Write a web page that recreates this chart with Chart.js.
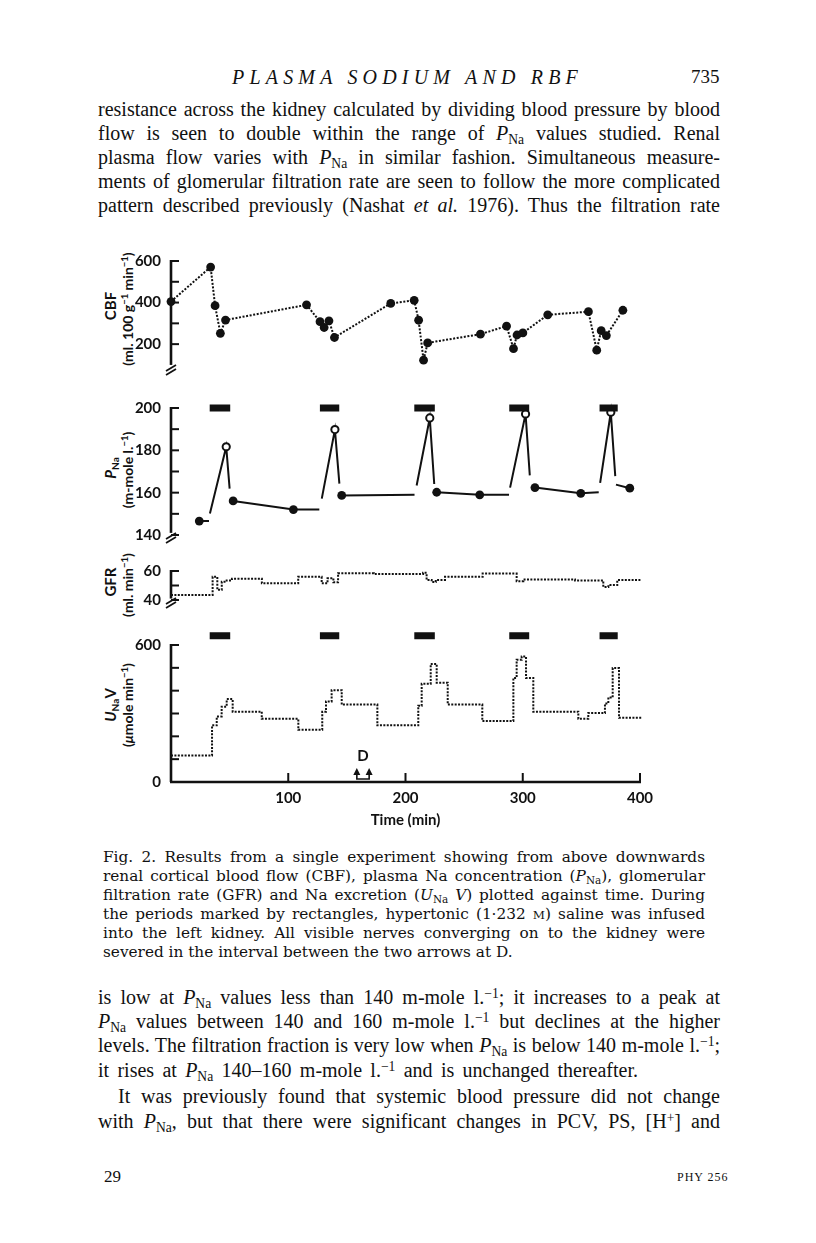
<!DOCTYPE html>
<html>
<head>
<meta charset="utf-8">
<title>Plasma sodium and RBF</title>
<script src="https://cdn.jsdelivr.net/npm/chart.js@4.4.1/dist/chart.umd.min.js"></script>
<style>
  html, body { margin: 0; background: #fff; }
  #page { position: relative; width: 816px; height: 1243px; overflow: hidden; color: #111;
          font-family: "Liberation Serif", "Times New Roman", serif; }
  .ln { position: absolute; white-space: nowrap; }
  .body { font-size: 20px; line-height: 22px; }
  .cap { font-family: "DejaVu Serif", serif; font-size: 15.3px; line-height: 18px; }
  sub { font-size: 0.68em; line-height: 0; vertical-align: -0.28em; }
  sup { font-size: 0.68em; line-height: 0; vertical-align: 0.45em; }
  .sc { font-size: 0.78em; }
  .rot { position: absolute; transform: translate(-50%, -50%) rotate(-90deg); white-space: nowrap;
         font: 700 14px Lato, sans-serif; color: #111; }
  canvas { position: absolute; left: 0; }
</style>
</head>
<body>
<div id="page">
  <div class="ln" style="left:232px;top:66px;font-size:20px;line-height:22px;font-style:italic" data-w="351" data-fit="ls">PLASMA SODIUM AND RBF</div>
  <div class="ln" style="left:691px;top:66px;font-size:19px;line-height:22px">735</div>

  <div class="ln body" style="left:98px;top:98px" data-w="622">resistance across the kidney calculated by dividing blood pressure by blood</div>
  <div class="ln body" style="left:98px;top:122px" data-w="622">flow is seen to double within the range of <i>P</i><sub>Na</sub> values studied. Renal</div>
  <div class="ln body" style="left:98px;top:146px" data-w="622">plasma flow varies with <i>P</i><sub>Na</sub> in similar fashion. Simultaneous measure-</div>
  <div class="ln body" style="left:98px;top:170px" data-w="622">ments of glomerular filtration rate are seen to follow the more complicated</div>
  <div class="ln body" style="left:98px;top:194px" data-w="622">pattern described previously (Nashat <i>et al.</i> 1976). Thus the filtration rate</div>

  <div class="rot" style="left:110px;top:306px;font-size:15px">CBF</div>
  <div class="rot" style="left:127px;top:309px">(ml. 100 g<sup>−1</sup> min<sup>−1</sup>)</div>
  <div class="rot" style="left:110px;top:468px;font-size:15px"><i>P</i><sub>Na</sub></div>
  <div class="rot" style="left:127px;top:470px">(m-mole l.<sup>−1</sup>)</div>
  <div class="rot" style="left:110px;top:582px;font-size:15px">GFR</div>
  <div class="rot" style="left:127px;top:585px">(ml. min<sup>−1</sup>)</div>
  <div class="rot" style="left:110px;top:705px;font-size:15px"><i>U</i><sub>Na</sub>V</div>
  <div class="rot" style="left:127px;top:705px">(<i>μ</i>mole min<sup>−1</sup>)</div>

  <canvas id="cbfChart"></canvas>
  <canvas id="pnaChart"></canvas>
  <canvas id="gfrChart"></canvas>
  <canvas id="unvChart"></canvas>

  <div class="ln cap" style="left:103px;top:848px" data-w="602">Fig. 2. Results from a single experiment showing from above downwards</div>
  <div class="ln cap" style="left:103px;top:867px" data-w="602">renal cortical blood flow (CBF), plasma Na concentration (<i>P</i><sub>Na</sub>), glomerular</div>
  <div class="ln cap" style="left:103px;top:886px" data-w="602">filtration rate (GFR) and Na excretion (<i>U</i><sub>Na</sub> <i>V</i>) plotted against time. During</div>
  <div class="ln cap" style="left:103px;top:905px" data-w="602">the periods marked by rectangles, hypertonic (1·232 <span class="sc">M</span>) saline was infused</div>
  <div class="ln cap" style="left:103px;top:924px" data-w="602">into the left kidney. All visible nerves converging on to the kidney were</div>
  <div class="ln cap" style="left:103px;top:943px">severed in the interval between the two arrows at D.</div>

  <div class="ln body" style="left:98px;top:986px" data-w="622">is low at <i>P</i><sub>Na</sub> values less than 140 m-mole l.<sup>−1</sup>; it increases to a peak at</div>
  <div class="ln body" style="left:98px;top:1010px" data-w="622"><i>P</i><sub>Na</sub> values between 140 and 160 m-mole l.<sup>−1</sup> but declines at the higher</div>
  <div class="ln body" style="left:98px;top:1034px" data-w="622">levels. The filtration fraction is very low when <i>P</i><sub>Na</sub> is below 140 m-mole l.<sup>−1</sup>;</div>
  <div class="ln body" style="left:98px;top:1059px" data-w="540">it rises at <i>P</i><sub>Na</sub> 140–160 m-mole l.<sup>−1</sup> and is unchanged thereafter.</div>
  <div class="ln body" style="left:118px;top:1085px" data-w="602">It was previously found that systemic blood pressure did not change</div>
  <div class="ln body" style="left:98px;top:1110px" data-w="622">with <i>P</i><sub>Na</sub>, but that there were significant changes in PCV, PS, [H<sup>+</sup>] and</div>

  <div class="ln" style="left:104px;top:1166px;font-size:17px;line-height:22px">29</div>
  <div class="ln" style="left:677px;top:1168px;font-size:12px;line-height:18px;letter-spacing:1px">PHY 256</div>
</div>

<script>
// justify the printed lines to the measured column widths
document.querySelectorAll('[data-w]').forEach(el => {
  const target = +el.dataset.w;
  const natural = el.getBoundingClientRect().width;
  if (el.dataset.fit === 'ls') {
    el.style.letterSpacing = ((target - natural) / el.textContent.length) + 'px';
  } else {
    const gaps = (el.textContent.match(/ /g) || []).length;
    el.style.wordSpacing = ((target - natural) / gaps) + 'px';
  }
});

// ---- data (time in min) ----
const xLabels = [100, 200, 300, 400];
const infusions = [[33, 50.5], [127, 143.5], [207.5, 225], [288.5, 305.5], [365.5, 381]];
const nerveCut = [158.5, 169];

// renal cortical blood flow
const cbfTime = [0, 33.8, 37.6, 42.1, 46.5, 115.6, 127.1, 130.6, 134.7, 139.4, 187.4, 207.4, 211.2,
                 215.4, 218.9, 263.9, 286.2, 292.1, 295.1, 300.1, 321.3, 356.0, 363.1, 366.9, 371.3, 385.4];
const cbfValue = [405, 571, 385, 252, 316, 389, 308, 280, 312, 232, 396, 411, 315,
                  123, 206, 248, 287, 178, 244, 254, 341, 356, 171, 265, 241, 363];
const cbfTicks = [200, 300, 400, 500, 600];
const cbfLabels = [200, 400, 600];

// plasma Na (null = break in the line; kind m = measured, p = peak after infusion)
const pnaTime = [24.1, 32.4, null, 33.2, 47.1, 50.0, null, 53.0, 104.4, 126.5, null, 128.6, 139.8, 143.6, null,
                 145.6, 207.7, null, 209.5, 220.7, 224.5, null, 226.6, 263.3, 288.3, null, 289.2, 302.4, 306.0, null,
                 310.4, 349.5, 364.8, null, 366.0, 375.1, 378.9, null, 379.5, 391.3];
const pnaValue = [146.6, 146.6, null, 150.2, 181.7, 161.9, null, 156.1, 152.0, 152.0, null, 157.2, 189.8, 164.3, null,
                  158.7, 159.0, null, 163.4, 195.3, 164.1, null, 160.2, 159.0, 159.0, null, 162.4, 197.2, 168.2, null,
                  162.4, 159.7, 160.2, null, 164.6, 198.0, 167.8, null, 163.8, 162.1];
const pnaKind = ['m', '', '', '', 'p', '', '', 'm', 'm', '', '', '', 'p', '', '',
                 'm', '', '', '', 'p', '', '', 'm', 'm', '', '', '', 'p', '', '',
                 'm', 'm', '', '', '', 'p', '', '', '', 'm'];
const pnaTicks = [140, 150, 160, 170, 180, 190, 200];
const pnaLabels = [140, 160, 180, 200];

// glomerular filtration rate (level from each time on)
const gfrTime = [0, 35.5, 39.5, 43.3, 47.5, 52, 77.5, 108.5, 128.5, 133.5, 138.5, 142.5, 173, 215,
                 218, 222.3, 225.8, 233.7, 265.8, 294.8, 300.5, 344.6, 368.7, 373, 380.6, 401];
const gfrValue = [43.5, 56, 47, 52.6, 53.5, 54.7, 51.5, 56, 51.5, 55, 52.3, 58.4, 58, 58.8,
                  53.8, 52.4, 53.8, 56, 58.2, 53, 54.1, 53.5, 49, 50.3, 53.8, 53.8];
const gfrTicks = [40, 50, 60];
const gfrLabels = [40, 60];

// Na excretion (level from each time on)
const unvTime = [0, 35, 39, 43.2, 47.5, 52.6, 77.4, 108.6, 129, 132.2, 137, 145.6, 176, 210.9, 213.8, 221.5,
                 226.6, 236, 265.5, 292, 294.8, 299.1, 302.8, 309, 347.4, 355.9, 370.1, 373, 376.7, 382.1, 402];
const unvValue = [116, 248, 287, 330, 363, 308, 277, 229, 308, 353, 402, 339, 248, 334, 430, 517,
                  435, 339, 267, 456, 535, 550, 456, 308, 277, 302, 344, 370, 499, 281, 281];
const unvTicks = [0, 100, 200, 300, 400, 500, 600];
const unvLabels = [0, 600];

// ---- drawing ----
const INK = '#111';
const X0 = 171, X1 = 640;
const tickFont = { family: 'Lato', size: 15, weight: 'bold' };
Chart.defaults.color = INK;

const pts = (ts, vs) => ts.map((t, i) => ({ x: t === null ? ts[i - 1] : t, y: vs[i] }));

function infusionBars(level) {
  const d = [];
  infusions.forEach(([s, e]) => d.push({ x: s, y: level }, { x: e, y: level }, { x: e, y: null }));
  return { data: d, borderColor: INK, borderWidth: 7, pointRadius: 0, spanGaps: false, clip: false };
}

const axisDeco = {
  id: 'axisDeco',
  beforeDatasetsDraw(chart, args, o) {
    const ctx = chart.ctx, xs = chart.scales.x, ys = chart.scales.y;
    const x0 = xs.getPixelForValue(0);
    ctx.save();
    ctx.strokeStyle = INK;
    ctx.fillStyle = INK;
    ctx.lineWidth = 2.6;
    ctx.beginPath();
    ctx.moveTo(x0, ys.getPixelForValue(o.from) - 1);
    ctx.lineTo(x0, ys.getPixelForValue(o.to));
    ctx.stroke();
    ctx.lineWidth = 2;
    o.ticks.forEach(v => {
      const py = ys.getPixelForValue(v);
      ctx.beginPath(); ctx.moveTo(x0, py); ctx.lineTo(x0 + 8, py); ctx.stroke();
    });
    if (o.breakAt !== undefined) {
      const py = ys.getPixelForValue(o.breakAt);
      ctx.lineWidth = 1.8;
      [0, 4].forEach(d => {
        ctx.beginPath(); ctx.moveTo(x0 - 5, py + 4 + d); ctx.lineTo(x0 + 5, py - 2 + d); ctx.stroke();
      });
    }
    if (o.timeAxis) {
      const py = ys.getPixelForValue(0);
      ctx.lineWidth = 2.6;
      ctx.beginPath(); ctx.moveTo(x0 - 1, py); ctx.lineTo(xs.getPixelForValue(400) + 1, py); ctx.stroke();
      ctx.lineWidth = 2;
      xLabels.forEach(t => {
        const px = xs.getPixelForValue(t);
        ctx.beginPath(); ctx.moveTo(px, py); ctx.lineTo(px, py - 9); ctx.stroke();
      });
      // nerve section between the two arrows at D
      const pa = xs.getPixelForValue(nerveCut[0]), pb = xs.getPixelForValue(nerveCut[1]);
      ctx.lineWidth = 1.6;
      ctx.beginPath();
      ctx.moveTo(pa, py - 9); ctx.lineTo(pa, py - 3); ctx.lineTo(pb, py - 3); ctx.lineTo(pb, py - 9);
      ctx.stroke();
      [pa, pb].forEach(px => {
        ctx.beginPath(); ctx.moveTo(px - 3.5, py - 7); ctx.lineTo(px, py - 14); ctx.lineTo(px + 3.5, py - 7);
        ctx.closePath(); ctx.fill();
      });
      ctx.font = '700 15px Lato';
      ctx.textAlign = 'center';
      ctx.textBaseline = 'middle';
      ctx.fillText('D', (pa + pb) / 2, py - 26);
    }
    ctx.restore();
  }
};

function panel(id, top, bottom, yMin, yMax, labels, datasets, deco, padTop, padBot, withX) {
  const cv = document.getElementById(id);
  const xH = withX ? 52 : 0;
  cv.width = 816;
  cv.height = padTop + (bottom - top) + xH + padBot;
  cv.style.top = (top - padTop) + 'px';
  return new Chart(cv, {
    type: 'line',
    data: { datasets },
    options: {
      responsive: false,
      animation: false,
      devicePixelRatio: 1,
      layout: { padding: { left: 0, right: 816 - X1, top: padTop, bottom: padBot } },
      plugins: { legend: { display: false }, tooltip: { enabled: false }, axisDeco: deco },
      scales: {
        x: {
          type: 'linear', min: 0, max: 400, display: withX,
          afterBuildTicks: s => { s.ticks = xLabels.map(v => ({ value: v })); },
          afterFit: s => { s.height = xH; },
          grid: { display: false, drawTicks: false }, border: { display: false },
          ticks: { font: tickFont, color: INK, padding: 7, maxRotation: 0, autoSkip: false },
          title: { display: withX, text: 'Time (min)', font: tickFont, color: INK, padding: { top: 0, bottom: 5 } }
        },
        y: {
          type: 'linear', min: yMin, max: yMax,
          afterFit: s => { s.width = X0; },
          afterBuildTicks: s => { s.ticks = labels.map(v => ({ value: v })); },
          grid: { display: false, drawTicks: false }, border: { display: false },
          ticks: { font: tickFont, color: INK, padding: 10 }
        }
      }
    },
    plugins: [axisDeco]
  });
}

// CBF
panel('cbfChart', 256, 372, 90, 600, cbfLabels, [{
  data: pts(cbfTime, cbfValue),
  borderColor: INK, borderWidth: 2, borderDash: [2, 1.6],
  pointRadius: 4.4, pointBackgroundColor: INK, pointBorderWidth: 0, clip: false
}], { from: 600, to: 100, ticks: cbfTicks, breakAt: 90 }, 14, 14, false);

// PNa
panel('pnaChart', 403, 540, 140, 200, pnaLabels, [
  infusionBars(200),
  {
    data: pts(pnaTime, pnaValue), spanGaps: false,
    borderColor: INK, borderWidth: 2,
    pointRadius: c => pnaKind[c.dataIndex] === 'm' ? 4.4 : (pnaKind[c.dataIndex] === 'p' ? 3.6 : 0),
    pointBackgroundColor: c => pnaKind[c.dataIndex] === 'p' ? '#fff' : INK,
    pointBorderColor: INK,
    pointBorderWidth: c => pnaKind[c.dataIndex] === 'p' ? 2 : 0,
    clip: false
  }
], { from: 200, to: 141, ticks: pnaTicks, breakAt: 140 }, 14, 14, false);

// GFR
panel('gfrChart', 562, 607, 40, 60, gfrLabels, [{
  data: pts(gfrTime, gfrValue), stepped: true,
  borderColor: INK, borderWidth: 2, borderDash: [2, 1.4], pointRadius: 0, clip: false
}], { from: 60, to: 41, ticks: gfrTicks, breakAt: 40 }, 10, 12, false);

// UNaV
panel('unvChart', 645, 782, 0, 600, unvLabels, [
  infusionBars(640),
  {
    data: pts(unvTime, unvValue), stepped: true,
    borderColor: INK, borderWidth: 2, borderDash: [2, 1.4], pointRadius: 0, clip: false
  }
], { from: 600, to: 0, ticks: unvTicks, timeAxis: true }, 25, 4, true);
</script>
</body>
</html>
